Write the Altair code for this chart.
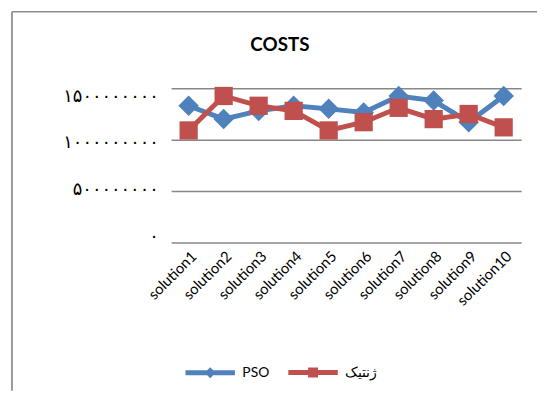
import altair as alt
import pandas as pd

categories = ["solution1", "solution2", "solution3", "solution4", "solution5",
              "solution6", "solution7", "solution8", "solution9", "solution10"]
series_names = ["PSO", "ژنتیک"]
pso_costs = [1.33e9, 1.20e9, 1.28e9, 1.33e9, 1.30e9, 1.265e9, 1.425e9, 1.38e9, 1.17e9, 1.425e9]
genetic_costs = [1.09e9, 1.425e9, 1.33e9, 1.28e9, 1.09e9, 1.17e9, 1.31e9, 1.20e9, 1.25e9, 1.12e9]
tick_values = [0, 500000000, 1000000000, 1500000000]
tick_labels = ["۰", "۵۰۰۰۰۰۰۰۰", "۱۰۰۰۰۰۰۰۰۰", "۱۵۰۰۰۰۰۰۰۰"]
colors = ["#4F81BD", "#C0504D"]
legend_paths = [
    "M-1,0L1,0M0,-0.08L0.08,0L0,0.08L-0.08,0Z",
    "M-1,0L1,0M-0.1,-0.1L0.1,-0.1L0.1,0.1L-0.1,0.1Z",
]

rows = []
for s, vals in zip(series_names, [pso_costs, genetic_costs]):
    for i, (c, v) in enumerate(zip(categories, vals)):
        rows.append({"series": s, "solution": c, "cost": v, "idx": i})
df = pd.DataFrame(rows)

W, H = 354, 156
PAD_L, PAD_T, PAD_R, PAD_B = 165, 79, 16, 150

label_expr = " : ".join(
    f"datum.value == {v} ? '{l}'" for v, l in zip(tick_values, tick_labels)
) + " : ''"

y_label_offset = {
    "condition": [
        {"test": f"datum.value == {tick_values[3]}", "value": 8},
        {"test": f"datum.value == {tick_values[2]}", "value": 3},
        {"test": f"datum.value == {tick_values[0]}", "value": -6},
    ],
    "value": -1.5,
}

x = alt.X(
    "solution:N", sort=categories, scale=alt.Scale(padding=0.5),
    axis=alt.Axis(title=None, labelAngle=-45, labelAlign="right", labelBaseline="top",
                  labelFont="Lato", labelFontSize=15, labelColor="#000000",
                  labelPadding=6, domain=False, ticks=False, grid=False),
)
y = alt.Y(
    "cost:Q", scale=alt.Scale(domain=[0, 1.5e9], nice=False, zero=True),
    axis=alt.Axis(title=None, values=tick_values, labelExpr=label_expr, grid=True,
                  gridColor="#878787", gridWidth=1.5, domain=False, ticks=False,
                  labelFont="DejaVu Sans", labelFontSize=18, labelColor="#000000",
                  labelPadding=13, labelOffset=y_label_offset),
)

is_pso = alt.datum.series == series_names[0]
color = alt.condition(is_pso, alt.value(colors[0]), alt.value(colors[1]))

base = alt.Chart(df)

lines = base.mark_line(strokeWidth=5).encode(x=x, y=y, color=color, detail="series:N")

points = base.mark_point(filled=True, opacity=1).encode(
    x=x, y=y, color=color,
    shape=alt.condition(is_pso, alt.value("diamond"), alt.value("square")),
    size=alt.condition(is_pso, alt.value(430), alt.value(340)),
)

leg = alt.Legend(title=None, orient="none", legendX=12, legendY=260, direction="horizontal",
                 symbolSize=2500, symbolStrokeWidth=5, symbolOpacity=1, labelFont="Lato",
                 labelFontSize=14, labelColor="#000000", labelOffset=5, columnPadding=8,
                 padding=0)
legend_layer = base.mark_point(filled=False, strokeWidth=5, opacity=0).encode(
    x=x, y=y,
    stroke=alt.Stroke("series:N", scale=alt.Scale(domain=series_names, range=colors), legend=leg),
    shape=alt.Shape("series:N", scale=alt.Scale(domain=series_names, range=legend_paths), legend=leg),
)

frame = alt.Chart(alt.Data(values=[{}]))
border_top = frame.mark_rule(color="#8c8c8c", strokeWidth=1.5).encode(
    x=alt.value(-161), x2=alt.value(W + PAD_R), y=alt.value(-77.5))
border_left = frame.mark_rule(color="#9a9a9a", strokeWidth=2).encode(
    x=alt.value(-161), y=alt.value(-77.5), y2=alt.value(H + PAD_B))

chart = alt.layer(border_top, border_left, lines, points, legend_layer).properties(
    width=W, height=H,
    title=alt.TitleParams("COSTS", font="Lato", fontSize=19, fontWeight="bold", color="#000000",
                          anchor="middle", frame="group", dx=-67, offset=-45),
    autosize=alt.AutoSizeParams(type="none"),
    padding={"left": PAD_L, "top": PAD_T, "right": PAD_R, "bottom": PAD_B},
).configure_view(stroke=None)

chart.save("out.html", embed_options={"renderer": "svg", "actions": False})
